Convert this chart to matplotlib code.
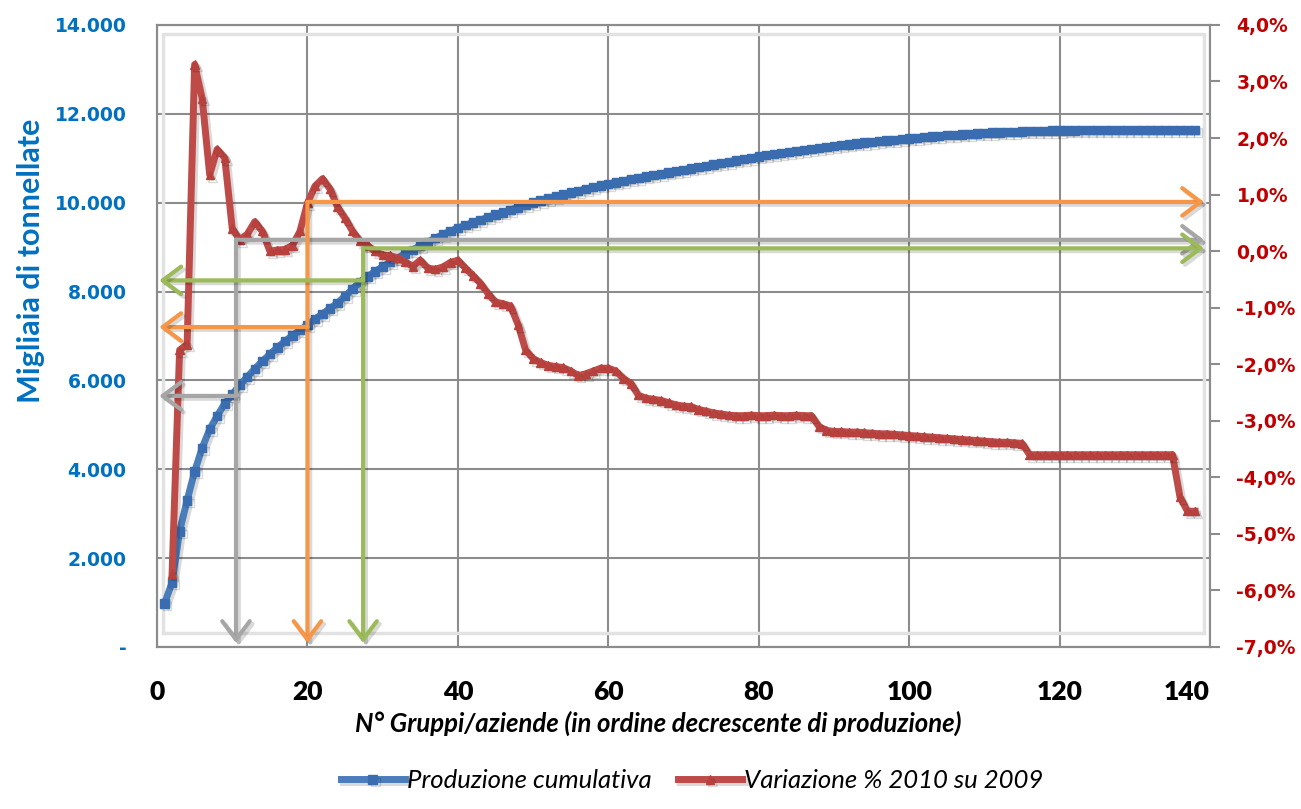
import matplotlib
matplotlib.use('Agg')
import matplotlib.pyplot as plt
import matplotlib.patheffects as pe
from matplotlib.ticker import FuncFormatter
from matplotlib.patches import Rectangle

# --- data ---
# cumulative production, thousand tonnes, groups 1..138
produzione = [
    980, 1450, 2600, 3300, 3950, 4480, 4900, 5200, 5480, 5680,
    5900, 6080, 6260, 6430, 6590, 6740, 6880, 7010, 7130, 7250,
    7380, 7500, 7620, 7740, 7900, 8060, 8220, 8340, 8450, 8560,
    8660, 8760, 8850, 8940, 9030, 9120, 9200, 9280, 9360, 9430,
    9490, 9550, 9610, 9670, 9730, 9780, 9840, 9890, 9950, 10000,
    10045, 10090, 10135, 10180, 10225, 10265, 10305, 10345, 10385, 10420,
    10455, 10490, 10525, 10560, 10590, 10620, 10650, 10680, 10710, 10740,
    10770, 10800, 10830, 10860, 10890, 10920, 10950, 10980, 11010, 11040,
    11065, 11090, 11115, 11140, 11165, 11190, 11210, 11230, 11250, 11270,
    11290, 11310, 11330, 11350, 11370, 11385, 11400, 11415, 11430, 11445,
    11460, 11475, 11490, 11505, 11515, 11525, 11535, 11545, 11555, 11565,
    11575, 11580, 11590, 11595, 11600, 11605, 11610, 11615, 11620, 11622,
    11624, 11626, 11628, 11630, 11631, 11632, 11633, 11634, 11635, 11636,
    11637, 11637, 11638, 11638, 11639, 11639, 11640, 11640,
]
gruppi = list(range(1, len(produzione) + 1))

# % change 2010 vs 2009, groups 2..138
variazione = [
    -5.70, -1.75, -1.65, 3.30, 2.70, 1.35, 1.80, 1.65, 0.40,
    0.20, 0.30, 0.52, 0.35, 0.00, 0.02, 0.03, 0.10, 0.35, 0.85,
    1.15, 1.28, 1.10, 0.78, 0.58, 0.35, 0.18, 0.10, 0.00, -0.07,
    -0.08, -0.12, -0.19, -0.27, -0.16, -0.30, -0.32, -0.28, -0.20, -0.16,
    -0.30, -0.43, -0.57, -0.75, -0.90, -0.93, -0.97, -1.30, -1.75, -1.90,
    -1.97, -2.02, -2.04, -2.06, -2.12, -2.20, -2.17, -2.12, -2.07, -2.07,
    -2.12, -2.25, -2.34, -2.55, -2.60, -2.62, -2.64, -2.68, -2.72, -2.74,
    -2.75, -2.80, -2.83, -2.86, -2.88, -2.90, -2.91, -2.91, -2.90, -2.91,
    -2.91, -2.90, -2.91, -2.91, -2.90, -2.91, -2.91, -3.10, -3.17, -3.19,
    -3.19, -3.20, -3.20, -3.21, -3.22, -3.23, -3.23, -3.24, -3.25, -3.26,
    -3.27, -3.28, -3.29, -3.30, -3.31, -3.32, -3.33, -3.34, -3.35, -3.36,
    -3.37, -3.38, -3.38, -3.39, -3.40, -3.60, -3.60, -3.60, -3.60, -3.60,
    -3.60, -3.60, -3.60, -3.60, -3.60, -3.60, -3.60, -3.60, -3.60, -3.60,
    -3.60, -3.60, -3.60, -3.60, -3.60, -4.35, -4.60, -4.60,
]
gruppi_var = list(range(2, len(variazione) + 2))

# axis ticks
x_ticks = [0, 20, 40, 60, 80, 100, 120, 140]
y_ticks = [0, 2000, 4000, 6000, 8000, 10000, 12000, 14000]
y2_ticks = [-7, -6, -5, -4, -3, -2, -1, 0, 1, 2, 3, 4]

# reading arrows (x position, left-axis level, right-axis level)
freccia_x = [10.5, 20, 27.4]
freccia_prod = [5650, 7200, 8250]
freccia_var = [0.20, 0.87, 0.05]
freccia_col = ['#A6A6A6', '#F79646', '#9BBB59']

blu = '#4A7EBB'
rosso = '#BE4B48'
blu_txt = '#0070C0'
rosso_txt = '#C00000'

fig = plt.figure(figsize=(13.01, 8.09), dpi=100)
ax = fig.add_axes([0.1207, 0.2003, 0.8094, 0.7689])
ax2 = ax.twinx()

ombra = [pe.SimpleLineShadow(offset=(2, -2), alpha=0.15), pe.Normal()]

l1, = ax.plot(gruppi, produzione, color=blu, lw=5, marker='s', ms=6,
              mfc='#3A6DB0', mec='#3A6DB0', path_effects=ombra,
              label='Produzione cumulativa')
l2, = ax2.plot(gruppi_var, variazione, color=rosso, lw=5, marker='^', ms=6,
               mfc='#B8403D', mec='#B8403D', path_effects=ombra,
               label='Variazione % 2010 su 2009')

ax.set_xlim(0, 140)
ax.set_ylim(0, 14000)
ax2.set_ylim(-7, 4)
ax.set_xticks(x_ticks)
ax.set_yticks(y_ticks)
ax2.set_yticks(y2_ticks)

ax.grid(True, color='#8C8C8C', lw=1.5)
ax.set_axisbelow(True)

def fmt_sx(v, pos):
    if v == 0:
        return '-'
    return f'{v:,.0f}'.replace(',', '.')

def fmt_dx(v, pos):
    return f'{v:.1f}%'.replace('.', ',')

ax.yaxis.set_major_formatter(FuncFormatter(fmt_sx))
ax2.yaxis.set_major_formatter(FuncFormatter(fmt_dx))

ax.tick_params(axis='y', length=0, pad=22, labelsize=13.5, labelcolor=blu_txt)
ax2.tick_params(axis='y', length=7, width=1.5, color='#8C8C8C', pad=12,
                labelsize=13.5, labelcolor=rosso_txt)
ax.tick_params(axis='x', length=0, pad=24, labelsize=19)

for a in (ax, ax2):
    for s in a.spines.values():
        s.set_color('#8C8C8C')
        s.set_linewidth(1.5)

# bevelled inner frame of the plot area
ax.add_patch(Rectangle((0.006, 0.022), 0.988, 0.963, transform=ax.transAxes,
                       fill=False, ec='#E2E2E2', lw=2.5, zorder=1))

ax.set_ylabel('Migliaia di tonnellate', fontfamily='Lato', fontweight='bold',
              fontsize=22, color=blu_txt)
ax.yaxis.set_label_coords(-0.106, 0.62)
ax.set_xlabel('N° Gruppi/aziende (in ordine decrescente di produzione)',
              fontfamily='Lato', fontstyle='italic', fontweight='bold',
              fontsize=18.5)
ax.xaxis.set_label_coords(0.476, -0.103)

# reading arrows, drawn on top of both series
stile = '->,head_length=0.6,head_width=0.45'
for x, yp, yv, c in zip(freccia_x, freccia_prod, freccia_var, freccia_col):
    kw = dict(arrowstyle=stile, color=c, lw=3, mutation_scale=22,
              shrinkA=0, shrinkB=0,
              path_effects=[pe.SimpleLineShadow(offset=(2, -2), alpha=0.15),
                            pe.Normal()])
    ax2.annotate('', xy=(139.2, yv), xytext=(x, yv), arrowprops=kw, zorder=5)
    ax2.annotate('', xy=(x, -6.93), xytext=(x, yv), arrowprops=kw, zorder=5)
    ax2.annotate('', xy=(0.3, yp), xytext=(x, yp), xycoords=ax.transData,
                 textcoords=ax.transData, arrowprops=kw, zorder=5)

fig.legend(handles=[l1, l2], loc='lower center', bbox_to_anchor=(0.532, -0.008),
           ncol=2, frameon=False, handlelength=2.5, handletextpad=0.1,
           columnspacing=1.0, prop={'family': 'Lato', 'style': 'italic', 'size': 18.5})

# style tick labels once the ticks exist
fig.canvas.draw()
for lab in ax.get_yticklabels() + ax2.get_yticklabels():
    lab.set_fontweight('bold')
xlabs = ax.get_xticklabels()
for lab in xlabs:
    lab.set_fontfamily('Lato')
    lab.set_fontweight('heavy')
xlabs[-1].set_horizontalalignment('right')

plt.savefig('out.png', dpi=100)
